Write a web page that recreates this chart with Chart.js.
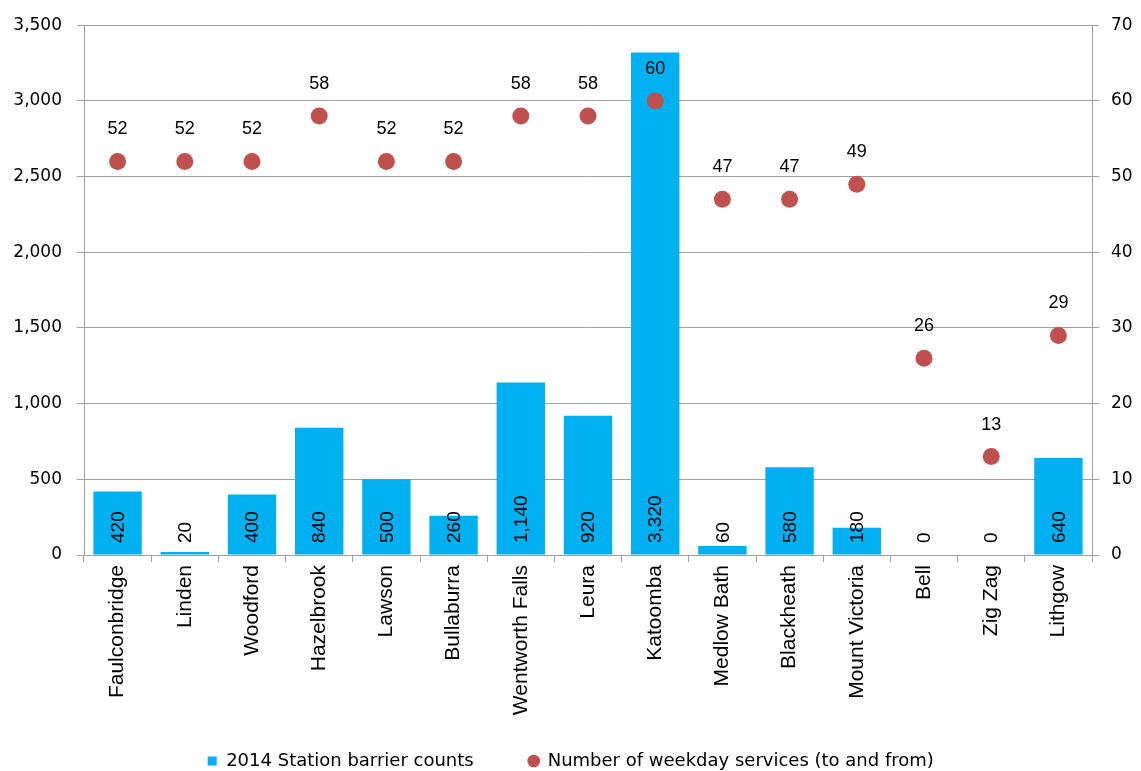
<!DOCTYPE html>
<html>
<head>
<meta charset="utf-8">
<script src="https://cdn.jsdelivr.net/npm/chart.js@4/dist/chart.umd.min.js"></script>
<style>
  html, body { margin: 0; padding: 0; background: #ffffff; }
  canvas { display: block; }
</style>
</head>
<body>
<canvas id="c" width="1141" height="771"></canvas>
<script>
const stations = ["Faulconbridge", "Linden", "Woodford", "Hazelbrook", "Lawson", "Bullaburra",
  "Wentworth Falls", "Leura", "Katoomba", "Medlow Bath", "Blackheath", "Mount Victoria",
  "Bell", "Zig Zag", "Lithgow"];
const barrierCounts = [420, 20, 400, 840, 500, 260, 1140, 920, 3320, 60, 580, 180, 0, 0, 640];
const weekdayServices = [52, 52, 52, 58, 52, 52, 58, 58, 60, 47, 47, 49, 26, 13, 29];
const seriesNames = ["2014 Station barrier counts", "Number of weekday services (to and from)"];
const leftTicks = [0, 500, 1000, 1500, 2000, 2500, 3000, 3500];
const rightTicks = [0, 10, 20, 30, 40, 50, 60, 70];

const GRID = '#a0a0a0';
const BAR = '#00B0F0';
const DOT = '#C0504D';

const fmt = v => Number(v).toLocaleString('en-US');

const labelPlugin = {
  id: 'valueLabels',
  afterDatasetsDraw(chart) {
    const ctx = chart.ctx;
    const barMeta = chart.getDatasetMeta(0);
    const dotMeta = chart.getDatasetMeta(1);
    const base = chart.scales.y.getPixelForValue(0);
    ctx.save();
    ctx.fillStyle = '#000';
    ctx.font = '19px "Liberation Sans", Arial, sans-serif';
    ctx.textAlign = 'left';
    ctx.textBaseline = 'middle';
    barMeta.data.forEach((el, i) => {
      ctx.save();
      ctx.translate(el.x, base - 12);
      ctx.rotate(-Math.PI / 2);
      ctx.fillText(fmt(barrierCounts[i]), 0, 1);
      ctx.restore();
    });
    ctx.font = '18px "Liberation Sans", Arial, sans-serif';
    ctx.textAlign = 'center';
    dotMeta.data.forEach((el, i) => {
      ctx.fillText(String(weekdayServices[i]), el.x, el.y - 32);
    });
    ctx.restore();
  }
};

const layoutTweak = {
  id: 'layoutTweak',
  afterLayout(chart) {
    const lg = chart.legend;
    if (lg) {
      const pad = lg.options.labels.padding;
      const itemH = 18;
      const center = lg.top + pad + itemH / 2;
      const d = 761 - center;
      lg.top += d; lg.bottom += d;
    }
    // let the long rotated category labels extend past the axis box (no clipping)
    const xs = chart.scales.x;
    if (xs) xs.bottom = chart.height;
  }
};

new Chart(document.getElementById('c'), {
  data: {
    labels: stations,
    datasets: [
      {
        type: 'bar',
        label: seriesNames[0],
        data: barrierCounts,
        backgroundColor: BAR,
        borderWidth: 0,
        barPercentage: 0.72,
        categoryPercentage: 1.0,
        yAxisID: 'y',
        order: 1,
        pointStyle: 'rect'
      },
      {
        type: 'line',
        label: seriesNames[1],
        data: weekdayServices,
        showLine: false,
        pointStyle: 'circle',
        pointRadius: 8.5,
        pointHoverRadius: 8.5,
        pointBackgroundColor: DOT,
        pointBorderColor: DOT,
        pointBorderWidth: 0,
        backgroundColor: DOT,
        borderColor: DOT,
        borderWidth: 0,
        yAxisID: 'y1',
        order: 0
      }
    ]
  },
  options: {
    responsive: false,
    animation: false,
    devicePixelRatio: 1,
    layout: { padding: { top: 22, left: 0, right: 0, bottom: 0 } },
    plugins: {
      tooltip: { enabled: false },
      legend: {
        position: 'bottom',
        labels: {
          usePointStyle: true,
          boxWidth: 10,
          boxHeight: 9,
          padding: 55,
          color: '#000',
          font: { family: '"DejaVu Sans", Verdana, sans-serif', size: 18 },
          sort: (a, b) => a.datasetIndex - b.datasetIndex
        }
      }
    },
    scales: {
      x: {
        type: 'category',
        offset: true,
        grid: { offset: true, drawOnChartArea: false, color: GRID, tickLength: 7, lineWidth: 1 },
        border: { color: GRID },
        ticks: {
          autoSkip: false, maxRotation: 90, minRotation: 90, padding: 3,
          color: '#000',
          font: { family: '"Liberation Sans", Arial, sans-serif', size: 21 }
        },
        afterFit(scale) { scale.height = 133; }
      },
      y: {
        position: 'left',
        min: 0, max: 3500,
        afterBuildTicks(scale) { scale.ticks = leftTicks.map(v => ({ value: v })); },
        grid: { color: GRID, tickLength: 7, lineWidth: 1 },
        border: { color: GRID },
        ticks: {
          padding: 15,
          color: '#000',
          font: { family: '"DejaVu Sans", Verdana, sans-serif', size: 17 },
          callback: v => fmt(v)
        },
        afterFit(scale) { scale.width = 84; }
      },
      y1: {
        position: 'right',
        min: 0, max: 70,
        afterBuildTicks(scale) { scale.ticks = rightTicks.map(v => ({ value: v })); },
        grid: { drawOnChartArea: false, color: GRID, tickLength: 7, lineWidth: 1 },
        border: { color: GRID },
        ticks: {
          padding: 12,
          color: '#000',
          font: { family: '"DejaVu Sans", Verdana, sans-serif', size: 17 }
        },
        afterFit(scale) { scale.width = 49; }
      }
    }
  },
  plugins: [labelPlugin, layoutTweak]
});
</script>
</body>
</html>
